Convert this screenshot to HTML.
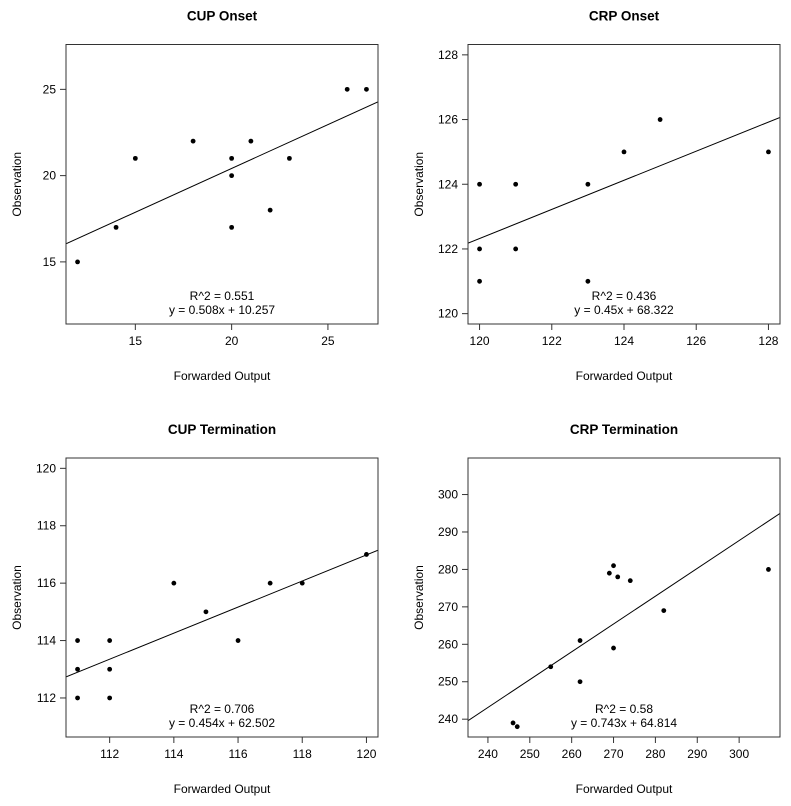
<!DOCTYPE html>
<html><head><meta charset="utf-8"><style>
html,body{margin:0;padding:0;background:#fff;}
svg{display:block;font-family:"Liberation Sans",Arial,sans-serif;}
</style></head><body>
<svg id="chart" width="791" height="806" viewBox="0 0 791 806" xmlns="http://www.w3.org/2000/svg"></svg>
<script>
const titles = ["CUP Onset","CRP Onset","CUP Termination","CRP Termination"];
const xs1 = [12,14,15,18,20,20,20,21,22,23,26,27];
const ys1 = [15,17,21,22,21,20,17,22,18,21,25,25];
const xs2 = [120,120,120,121,121,123,123,124,125,128];
const ys2 = [124,122,121,124,122,124,121,125,126,125];
const xs3 = [111,111,111,112,112,112,114,115,116,117,118,120];
const ys3 = [114,113,112,114,113,112,116,115,114,116,116,117];
const xs4 = [246,247,255,262,262,269,270,270,271,274,282,307];
const ys4 = [239,238,254,261,250,279,281,259,278,277,269,280];
const slopes = [0.508,0.45,0.454,0.743];
const intercepts = [10.257,68.322,62.502,64.814];
const r2Labels = ["R^2 = 0.551","R^2 = 0.436","R^2 = 0.706","R^2 = 0.58"];
const eqLabels = ["y = 0.508x + 10.257","y = 0.45x + 68.322","y = 0.454x + 62.502","y = 0.743x + 64.814"];
const ticks1 = [15,20,25];
const ticks2 = [120,122,124,126,128];
const ticks3 = [112,114,116,118,120];
const ticks4 = [240,250,260,270,280,290,300];

const XS=[xs1,xs2,xs3,xs4], YS=[ys1,ys2,ys3,ys4], TK=[ticks1,ticks2,ticks3,ticks4];
const boxes=[[66,44.5,378,324],[468,44.5,780,324],[66,458,378,737],[468,458,780,737]];
const NS="http://www.w3.org/2000/svg";
const svg=document.getElementById('chart');
function mk(tag,attrs,parent){const e=document.createElementNS(NS,tag);for(const k in attrs)e.setAttribute(k,attrs[k]);(parent||svg).appendChild(e);return e;}

for(let p=0;p<4;p++){
  const [L,T,R,B]=boxes[p];
  const all=XS[p].concat(YS[p]);
  let mn=Math.min(...all), mx=Math.max(...all), d=(mx-mn)*0.04; mn-=d; mx+=d;
  const sx=v=>L+(v-mn)/(mx-mn)*(R-L);
  const sy=v=>B-(v-mn)/(mx-mn)*(B-T);
  const g=mk('g',{});
  
  
  const cx=(L+R)/2;
  const t=mk('text',{x:cx,y:T-24,'text-anchor':'middle','font-size':'13.5','font-weight':'bold',fill:'#000'},g);
  t.textContent=titles[p];
  
  
  const clipId='clip'+p;
  const cp=mk('clipPath',{id:clipId},g);
  mk('rect',{x:L,y:T,width:R-L,height:B-T},cp);
  // regression line
  const ln=mk('line',{x1:sx(mn),y1:sy(slopes[p]*mn+intercepts[p]),x2:sx(mx),y2:sy(slopes[p]*mx+intercepts[p]),stroke:'#000','stroke-width':'1','clip-path':'url(#'+clipId+')'},g);
  
  
  // points
  for(let i=0;i<XS[p].length;i++){
    const c=mk('circle',{cx:sx(XS[p][i]),cy:sy(YS[p][i]),r:'2.4',fill:'#000'},g);
    
    
  }
  const box=mk('rect',{x:L,y:T,width:R-L,height:B-T,fill:'none',stroke:'#333','stroke-width':'1'},g);
  
  
  const tk=TK[p];
  // x axis
  mk('line',{x1:sx(tk[0]),y1:B,x2:sx(tk[tk.length-1]),y2:B,stroke:'#333'},g);
  for(const v of tk){
    mk('line',{x1:sx(v),y1:B,x2:sx(v),y2:B+6,stroke:'#333'},g);
    const tl=mk('text',{x:sx(v),y:B+21,'text-anchor':'middle','font-size':'12',fill:'#000'},g);
    tl.textContent=v;
    
    
  }
  // y axis
  mk('line',{x1:L,y1:sy(tk[0]),x2:L,y2:sy(tk[tk.length-1]),stroke:'#333'},g);
  for(const v of tk){
    mk('line',{x1:L,y1:sy(v),x2:L-6,y2:sy(v),stroke:'#333'},g);
    const tl=mk('text',{x:L-10,y:sy(v)+4,'text-anchor':'end','font-size':'12',fill:'#000'},g);
    tl.textContent=v;
    
    
  }
  const xt=mk('text',{x:cx,y:B+56,'text-anchor':'middle','font-size':'12',fill:'#000'},g);
  xt.textContent='Forwarded Output';
  
  
  const yc=(T+B)/2, yx=L-45;
  const yt=mk('text',{x:yx,y:yc,'text-anchor':'middle','font-size':'12',fill:'#000',transform:'rotate(-90 '+yx+' '+yc+')'},g);
  yt.textContent='Observation';
  
  
  const a1=mk('text',{x:cx,y:B-24,'text-anchor':'middle','font-size':'12',fill:'#000'},g);
  a1.textContent=r2Labels[p];
  
  
  const a2=mk('text',{x:cx,y:B-10,'text-anchor':'middle','font-size':'12',fill:'#000'},g);
  a2.textContent=eqLabels[p];
  
  
}
</script>
</body></html>
